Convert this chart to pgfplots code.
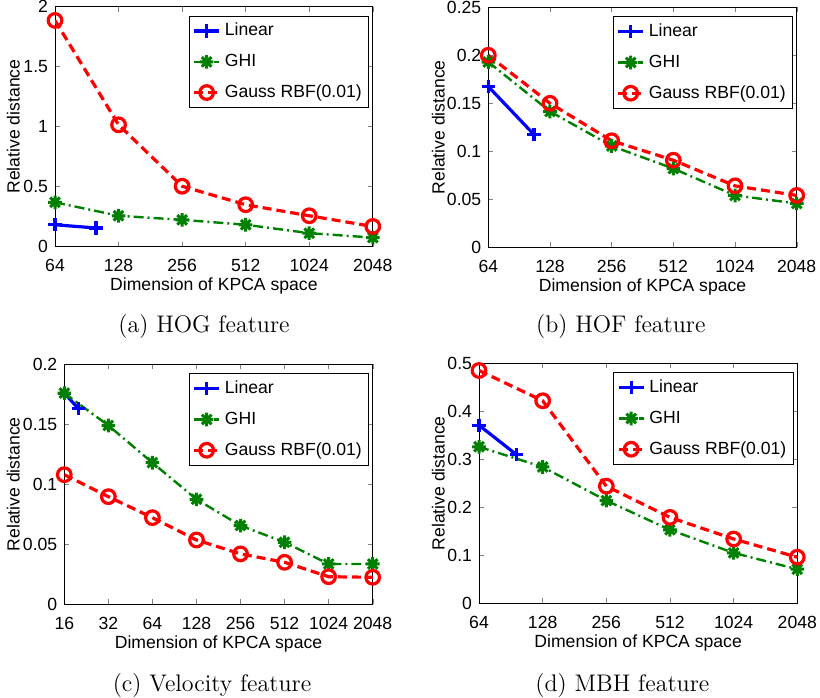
\documentclass[border=0pt]{standalone}
\usepackage{pgfplots}
\pgfplotsset{compat=1.18}
\usepackage{fontspec}
\newfontfamily\helv{Liberation Sans}
\newcommand\axfont{\helv\fontsize{8.8}{10}\selectfont}

% matlab style '*' marker (+ and x together)
\pgfdeclareplotmark{mstar}{%
  \pgfpathmoveto{\pgfqpoint{-\pgfplotmarksize}{0pt}}\pgfpathlineto{\pgfqpoint{\pgfplotmarksize}{0pt}}%
  \pgfpathmoveto{\pgfqpoint{0pt}{-\pgfplotmarksize}}\pgfpathlineto{\pgfqpoint{0pt}{\pgfplotmarksize}}%
  \pgfpathmoveto{\pgfqpoint{-.707\pgfplotmarksize}{-.707\pgfplotmarksize}}\pgfpathlineto{\pgfqpoint{.707\pgfplotmarksize}{.707\pgfplotmarksize}}%
  \pgfpathmoveto{\pgfqpoint{-.707\pgfplotmarksize}{.707\pgfplotmarksize}}\pgfpathlineto{\pgfqpoint{.707\pgfplotmarksize}{-.707\pgfplotmarksize}}%
  \pgfusepathqstroke}

\definecolor{mblue}{rgb}{0,0,1}
\definecolor{mgreen}{rgb}{0,0.5,0}
\definecolor{mred}{rgb}{1,0,0}

\pgfplotsset{
  kpca/.style={
    scale only axis, height=120pt,
    xmin=64, xmax=2048,
    xtick={64,128,256,512,1024,2048},
    xticklabels={64,128,256,512,1024,2048},
    ymin=0,
    tick align=inside, major tick length=2.5pt,
    minor tick num=0,
    /pgf/number format/assume math mode=true,
    ticklabel style={font=\axfont},
    xticklabel style={yshift=-3pt},
    label style={font=\axfont},
    xlabel={Dimension of KPCA space},
    ylabel={Relative distance},
    xlabel style={at={(rel axis cs:0.5,0)}, anchor=center, yshift=-19.8pt},
    legend style={font=\axfont, at={(rel axis cs:0.989,0.962)}, anchor=north east,
      draw=black, line width=0.5pt, inner sep=1.5pt, row sep=3.6pt,
      legend cell align=left},
    legend image code/.code={\draw[mark repeat=2,mark phase=2]
      plot coordinates {(0pt,0pt)(6.3pt,0pt)(12.6pt,0pt)};},
  },
  lin/.style={color=mblue, line width=1.6pt, mark=+, mark size=3.3pt, mark options={solid, line width=1.6pt}},
  ghi/.style={color=mgreen, line width=1.2pt, dash pattern=on 5pt off 2pt on 1pt off 2pt, mark=mstar, mark size=3.4pt, mark options={solid, line width=1.5pt}},
  rbf/.style={color=mred, line width=1.6pt, dash pattern=on 4.5pt off 2.5pt, mark=o, mark size=3.4pt, mark options={solid, line width=1.6pt}},
}

\begin{document}
\begin{tikzpicture}
\path[use as bounding box] (0pt,0pt) rectangle (410pt,348.5pt);

% (a) HOG
\begin{axis}[xmode=log, log basis x=2, kpca, at={(27.5pt,225.2pt)}, anchor=south west, width=158.9pt,
  ymax=2, ytick={0,0.5,1,1.5,2}, yticklabels={0,0.5,1,1.5,2},
  ylabel style={at={(rel axis cs:0,0.5)}, anchor=center, yshift=20.8pt}]
\addplot[lin] coordinates {(64,0.182) (100,0.155)};
\addplot[ghi] coordinates {(64,0.369) (128,0.257) (256,0.223) (512,0.182) (1024,0.112) (2048,0.075)};
\addplot[rbf] coordinates {(64,1.885) (128,1.015) (256,0.503) (512,0.349) (1024,0.257) (2048,0.168)};
\legend{Linear,GHI,Gauss RBF(0.01)}
\end{axis}

% (b) HOF
\begin{axis}[xmode=log, log basis x=2, kpca, at={(244.15pt,224.85pt)}, anchor=south west, width=154.2pt,
  ymax=0.25, ytick={0,0.05,0.1,0.15,0.2,0.25}, yticklabels={0,0.05,0.1,0.15,0.2,0.25},
  ylabel style={at={(rel axis cs:0,0.5)}, anchor=center, yshift=25pt}]
\addplot[lin] coordinates {(64,0.1675) (107,0.1173)};
\addplot[ghi] coordinates {(64,0.193) (128,0.1415) (256,0.1055) (512,0.082) (1024,0.054) (2048,0.0457)};
\addplot[rbf] coordinates {(64,0.200) (128,0.150) (256,0.111) (512,0.0907) (1024,0.064) (2048,0.054)};
\legend{Linear,GHI,Gauss RBF(0.01)}
\end{axis}

% (c) Velocity
\begin{axis}[xmode=log, log basis x=2, kpca, at={(32.15pt,46.35pt)}, anchor=south west, width=154.2pt,
  xmin=16, xtick={16,32,64,128,256,512,1024,2048},
  xticklabels={16,32,64,128,256,512,1024,2048},
  ymax=0.2, ytick={0,0.05,0.1,0.15,0.2}, yticklabels={0,0.05,0.1,0.15,0.2},
  ylabel style={at={(rel axis cs:0,0.5)}, anchor=center, yshift=25.5pt}]
\addplot[lin] coordinates {(16,0.176) (20,0.163)};
\addplot[ghi] coordinates {(16,0.176) (32,0.149) (64,0.118) (128,0.0875) (256,0.0656) (512,0.0517) (1024,0.0336) (2048,0.0336)};
\addplot[rbf] coordinates {(16,0.108) (32,0.0897) (64,0.0722) (128,0.0536) (256,0.042) (512,0.035) (1024,0.023) (2048,0.0225)};
\legend{Linear,GHI,Gauss RBF(0.01)}
\end{axis}

% (d) MBH
\begin{axis}[xmode=log, log basis x=2, kpca, at={(239.5pt,46.85pt)}, anchor=south west, width=159.15pt,
  ymax=0.5, ytick={0,0.1,0.2,0.3,0.4,0.5}, yticklabels={0,0.1,0.2,0.3,0.4,0.5},
  ylabel style={at={(rel axis cs:0,0.5)}, anchor=center, yshift=20.3pt}]
\addplot[lin] coordinates {(64,0.371) (96,0.310)};
\addplot[ghi] coordinates {(64,0.326) (128,0.284) (256,0.214) (512,0.153) (1024,0.105) (2048,0.071)};
\addplot[rbf] coordinates {(64,0.485) (128,0.422) (256,0.244) (512,0.179) (1024,0.134) (2048,0.096)};
\legend{Linear,GHI,Gauss RBF(0.01)}
\end{axis}

\node[font=\fontsize{12}{14}\selectfont] at (102pt,185.3pt) {(a) HOG feature};
\node[font=\fontsize{12}{14}\selectfont] at (310.4pt,185.3pt) {(b) HOF feature};
\node[font=\fontsize{12}{14}\selectfont] at (106pt,5.8pt) {(c) Velocity feature};
\node[font=\fontsize{12}{14}\selectfont] at (311.2pt,5.8pt) {(d) MBH feature};
\end{tikzpicture}
\end{document}
